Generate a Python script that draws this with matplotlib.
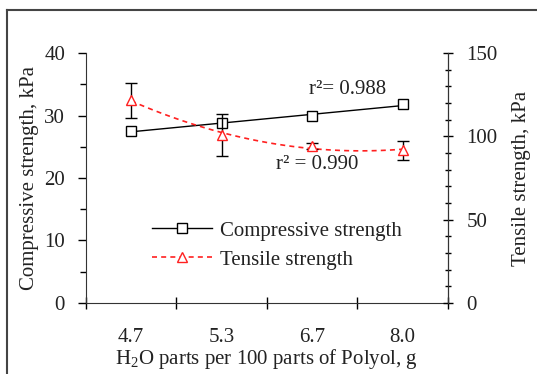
import matplotlib
matplotlib.use("Agg")
import matplotlib.pyplot as plt
import numpy as np
from matplotlib.lines import Line2D

plt.rcParams['font.family'] = ['Liberation Serif', 'DejaVu Serif']
plt.rcParams['mathtext.fontset'] = 'custom'
plt.rcParams['mathtext.rm'] = 'Liberation Serif'
plt.rcParams['mathtext.it'] = 'Liberation Serif:italic'

water = ["4.7", "5.3", "6.7", "8.0"]
compressive = [27.5, 28.8, 29.9, 31.8]
tensile = [121.8, 100.8, 94.2, 91.8]
tensile_err = [10.5, 12.6, 2.0, 5.7]

TXT = "#222222"
FS = 15

fig = plt.figure(figsize=(5.37, 3.74), dpi=100)
ax = fig.add_axes([0.160, 0.190, 0.674, 0.668])
ax2 = ax.twinx()

x = np.arange(len(water))

# compressive: markers + linear trend
cfit = np.polyfit(x, compressive, 1)
xs = np.linspace(0, 3, 100)
ax.plot(xs, np.polyval(cfit, xs), color="black", lw=1.0)
ax.plot(x, compressive, ls="none", marker="s", ms=7, mfc="white",
        mec="black", mew=1.0, zorder=5)

# tensile: markers + error bars + quadratic trend
tfit = np.polyfit(x, tensile, 2)
ax2.plot(xs, np.polyval(tfit, xs), color="#ff2020", lw=1.2, ls=(0, (3, 2.5)))
ax2.errorbar(x, tensile, yerr=tensile_err, fmt="none", ecolor="black",
             elinewidth=1.0, capsize=4, capthick=1.0)
ax2.plot(x, tensile, ls="none", marker="^", ms=7, mfc="white",
         mec="#ff2020", mew=1.0, zorder=5)

ax.set_xlim(-0.5, 3.5)
ax.set_ylim(0, 40)
ax2.set_ylim(0, 150)

ax.set_xticks(np.arange(-0.5, 3.6, 1))
ax.set_xticklabels([])
ax.set_xticks(x, minor=True)
ax.set_xticklabels(water, minor=True)
ax.tick_params(axis="x", which="major", direction="inout", length=8, width=1)
ax.tick_params(axis="x", which="minor", length=0, pad=18, labelsize=FS, labelcolor=TXT)

ax.set_yticks([0, 10, 20, 30, 40])
ax.set_yticks(np.arange(0, 41, 5), minor=True)
ax.tick_params(axis="y", which="major", direction="out", length=6, width=1,
               labelsize=FS, labelcolor=TXT, pad=9)
ax.tick_params(axis="y", which="minor", direction="out", length=4, width=1)

ax2.set_yticks([0, 50, 100, 150])
ax2.set_yticks(np.arange(0, 151, 10), minor=True)
ax2.tick_params(axis="y", which="major", direction="inout", length=7, width=1,
                labelsize=FS, labelcolor=TXT, pad=10)
ax2.tick_params(axis="y", which="minor", direction="inout", length=4, width=1)

for a in (ax, ax2):
    a.spines["top"].set_visible(False)
ax2.spines["left"].set_visible(False)
ax2.spines["bottom"].set_visible(False)
for s in ("left", "bottom"):
    ax.spines[s].set_color("#333333")
ax2.spines["right"].set_color("#333333")

ax.set_xlabel("H$_2$O parts per 100 parts of Polyol, g", fontsize=FS, color=TXT, labelpad=0)
ax.set_ylabel("Compressive strength, kPa", fontsize=FS, color=TXT, labelpad=4)
ax2.set_ylabel("Tensile strength, kPa", fontsize=FS, color=TXT, labelpad=10)

ax.text(2.39, 34.1, "r²= 0.988", fontsize=FS, color=TXT, ha="center", va="center")
ax.text(2.06, 22.1, "r² = 0.990", fontsize=FS, color=TXT, ha="center", va="center")

handles = [
    Line2D([], [], color="black", lw=1.0, marker="s", ms=7, mfc="white", mec="black"),
    Line2D([], [], color="#ff2020", lw=1.2, ls=(0, (3, 2.5)), marker="^", ms=7,
           mfc="white", mec="#ff2020"),
]
leg = ax.legend(handles, ["Compressive strength", "Tensile strength"],
                loc="center left", bbox_to_anchor=(0.13, 0.23), frameon=False,
                fontsize=FS, handlelength=2.9, labelspacing=0.45, handletextpad=0.4)
for t in leg.get_texts():
    t.set_color(TXT)

# outer frame (top and left edges)
fig.add_artist(Line2D([7 / 537, 1], [1 - 10 / 374, 1 - 10 / 374], color="#444444", lw=1.5))
fig.add_artist(Line2D([7 / 537, 7 / 537], [0, 1 - 10 / 374], color="#444444", lw=1.5))

fig.savefig("out.png", dpi=100)
